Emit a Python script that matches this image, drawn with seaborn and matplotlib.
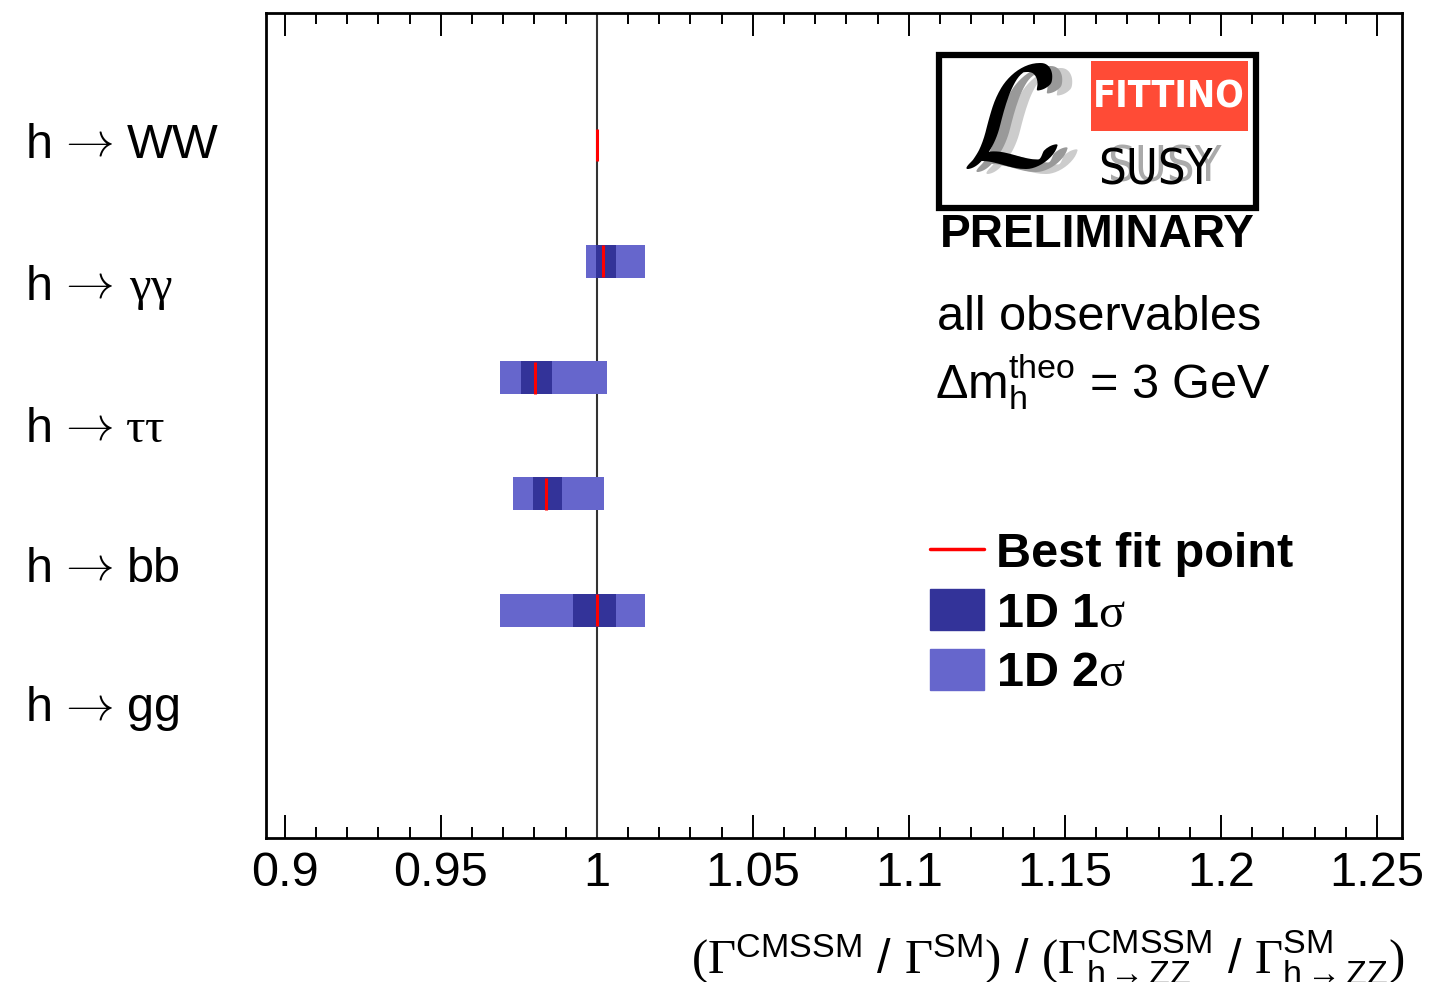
import numpy as np
import pandas as pd
import matplotlib
matplotlib.use("Agg")
import matplotlib.pyplot as plt
import seaborn as sns
from matplotlib.lines import Line2D
from matplotlib.patches import Patch, Rectangle

# ---------------- data ----------------
channels = ["WW", "γγ", "ττ", "bb", "gg"]
decay_products = ["WW", r"$\mathrm{\gamma\gamma}$", r"$\mathrm{\tau\tau}$", "bb", "gg"]
best_fit = [1.0000, 1.0021, 0.9802, 0.9837, 1.0002]
one_sigma_lo = [1.0000, 0.9998, 0.9756, 0.9795, 0.9923]
one_sigma_hi = [1.0000, 1.0062, 0.9858, 0.9890, 1.0062]
two_sigma_lo = [1.0000, 0.9965, 0.9689, 0.9732, 0.9691]
two_sigma_hi = [1.0000, 1.0156, 1.0034, 1.0024, 1.0154]
xticks = [0.9, 0.95, 1.0, 1.05, 1.1, 1.15, 1.2, 1.25]
xticklabels = ["0.9", "0.95", "1", "1.05", "1.1", "1.15", "1.2", "1.25"]
legend_labels = ["Best fit point", r"1D 1$\mathrm{\sigma}$", r"1D 2$\mathrm{\sigma}$"]

df = pd.DataFrame({"channel": channels, "best": best_fit,
                   "lo1": one_sigma_lo, "hi1": one_sigma_hi,
                   "lo2": two_sigma_lo, "hi2": two_sigma_hi})
df["pos"] = np.arange(len(df))

C1 = "#333399"
C2 = "#6666cc"
RED = "#ff0000"

sns.set_theme(style="white")
plt.rcParams["font.family"] = ["Liberation Sans", "DejaVu Sans"]
plt.rcParams["text.color"] = "black"
plt.rcParams["xtick.color"] = "black"
plt.rcParams["xtick.labelcolor"] = "black"
plt.rcParams["mathtext.fontset"] = "custom"
plt.rcParams["mathtext.rm"] = "Liberation Serif"
plt.rcParams["mathtext.it"] = "Liberation Serif:italic"
plt.rcParams["mathtext.sf"] = "Liberation Sans"
plt.rcParams["mathtext.bf"] = "Liberation Sans:bold"

W, H = 1449, 982
fig = plt.figure(figsize=(W / 100, H / 100), dpi=100)
ax = fig.add_axes([266 / W, 1 - 838 / H, (1402 - 266) / W, (838 - 13) / H])


def px(x, y):
    return (x / W, 1 - y / H)


bh = 0.284
ax.barh(df["pos"], df["hi2"] - df["lo2"], left=df["lo2"], height=bh,
        color=C2, linewidth=0, zorder=2)
ax.barh(df["pos"], df["hi1"] - df["lo1"], left=df["lo1"], height=bh,
        color=C1, linewidth=0, zorder=3)
ax.axvline(1.0, color="#333333", lw=1.5, zorder=1)
sns.scatterplot(data=df, x="best", y="pos", marker="|", s=560,
                color=RED, linewidth=2.2, ax=ax, zorder=4, legend=False)

ax.set_xlim(0.894, 1.258)
ax.set_ylim(5.96, -1.135)
ax.set_yticks([])
ax.set_ylabel("")
ax.set_xlabel("")
ax.set_xticks(xticks)
ax.set_xticklabels(xticklabels, fontsize=35)
ax.set_xticks(np.arange(0.9, 1.2551, 0.01), minor=True)
ax.tick_params(axis="x", which="both", direction="in", top=True, bottom=True,
               color="black", width=1.4, pad=9)
ax.tick_params(axis="x", which="major", length=16.5)
ax.tick_params(axis="x", which="minor", length=8)
for s in ax.spines.values():
    s.set_visible(True)
    s.set_color("black")
    s.set_linewidth(2.0)

# category labels: "h", arrow, decay products
baselines = [158, 300, 442, 582, 721]
prod_x = [127, 129, 125, 127, 127]
for prod, yb, xp in zip(decay_products, baselines, prod_x):
    fig.text(*px(26, yb), "h", fontsize=35, ha="left", va="baseline")
    fig.text(*px(57, yb - 2), r"$\rightarrow$", fontsize=35, math_fontfamily="cm",
             ha="left", va="baseline")
    fig.text(*px(xp, yb), prod, fontsize=35, ha="left", va="baseline")

# x axis title
fig.text(1404 / W, 1 - 958 / H,
         r"$(\mathrm{\Gamma}^{\mathsf{CMSSM}}$ / $\mathrm{\Gamma}^{\mathsf{SM}})$ / "
         r"$(\mathrm{\Gamma}^{\mathsf{CMSSM}}_{\mathsf{h\rightarrow ZZ}}$ / "
         r"$\mathrm{\Gamma}^{\mathsf{SM}}_{\mathsf{h\rightarrow ZZ}})$",
         fontsize=35, ha="right", va="center")

# annotation texts
fig.text(937 / W, 1 - 318 / H, "all observables", fontsize=35, ha="left", va="center")
fig.text(935 / W, 1 - 382 / H,
         r"$\mathsf{\Delta m}_{\mathsf{h}}^{\mathsf{theo}}$ = 3 GeV",
         fontsize=35, ha="left", va="center")

# legend
handles = [Line2D([0], [0], color=RED, lw=2.5),
           Patch(facecolor=C1, edgecolor=C1),
           Patch(facecolor=C2, edgecolor=C2)]
leg = ax.legend(handles, legend_labels,
                loc="upper left", bbox_to_anchor=(930 / W, 1 - 530 / H),
                bbox_transform=fig.transFigure, frameon=False,
                prop={"family": ["Liberation Sans", "DejaVu Sans"], "weight": "bold", "size": 35},
                handlelength=1.12, handleheight=0.92, handletextpad=0.24,
                labelspacing=0.25, borderpad=0, borderaxespad=0)

# logo
box = Rectangle(px(939, 208), (1256 - 939) / W, (208 - 55) / H, transform=fig.transFigure,
                facecolor="white", edgecolor="black", linewidth=4.5, zorder=5)
fig.patches.append(box)
red = Rectangle(px(1091, 131), (1248 - 1091) / W, (131 - 61) / H, transform=fig.transFigure,
                facecolor="#ff4b36", edgecolor="none", zorder=6)
fig.patches.append(red)
fig.text(*px(1169, 97), "FITTINO", color="white", fontsize=27, weight="bold",
         family="DejaVu Sans", fontstretch="condensed", ha="center", va="center", zorder=7)
for dx, col in [(20, "#cccccc"), (10, "#999999"), (0, "black")]:
    fig.text(*px(1010 + dx, 128 + dx * 0.25), r"$\mathcal{L}$", color=col, fontsize=105,
             math_fontfamily="cm", ha="center", va="center", zorder=7)
for dx, col in [(9, "#aaaaaa"), (0, "black")]:
    fig.text(*px(1155 + dx, 171 - dx * 0.4), "SUSY", color=col, fontsize=35,
             family="DejaVu Sans", fontstretch="condensed", ha="center", va="center", zorder=8)
fig.text(*px(1097, 235), "PRELIMINARY", color="black", fontsize=33, weight="bold",
         ha="center", va="center")

fig.savefig("out.png", dpi=100, facecolor="white")
